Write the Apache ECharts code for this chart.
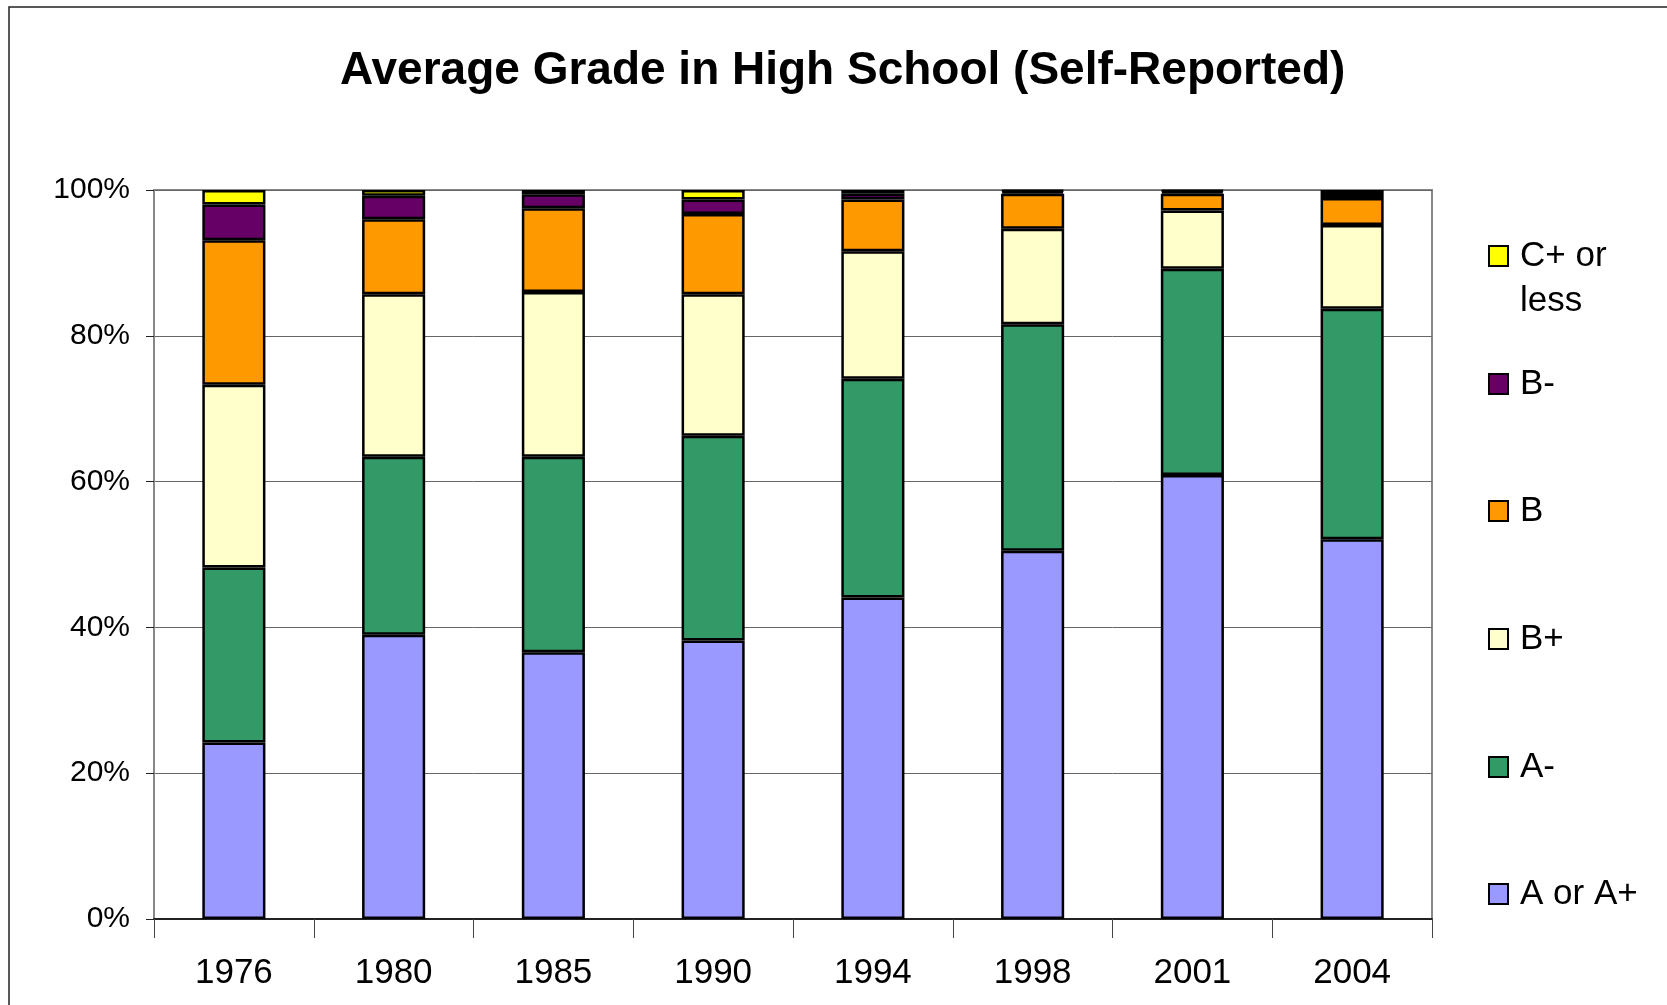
<!DOCTYPE html>
<html>
<head>
<meta charset="utf-8">
<script src="https://cdn.jsdelivr.net/npm/echarts@6/dist/echarts.min.js"></script>
<style>
html,body{margin:0;padding:0;background:#fff;}
#chart{width:1667px;height:1005px;}
</style>
</head>
<body>
<div id="chart"></div>
<script>
// ---- data ----
const years = ['1976', '1980', '1985', '1990', '1994', '1998', '2001', '2004'];
const seriesNames = ['A or A+', 'A-', 'B+', 'B', 'B-', 'C+ or less'];
const aOrAPlus = [24.2, 39.0, 36.6, 38.2, 44.1, 50.5, 60.9, 52.1];
const aMinus   = [24.0, 24.4, 26.8, 28.1, 30.0, 31.1, 28.3, 31.6];
const bPlus    = [25.1, 22.3, 22.6, 19.4, 17.5, 13.1, 8.0, 11.5];
const bGrade   = [19.8, 10.3, 11.5, 11.0, 7.1, 4.8, 2.3, 3.7];
const bMinus   = [4.9, 3.2, 1.9, 2.0, 0.8, 0.3, 0.3, 0.7];
const cPlusOrLess = [2.0, 0.8, 0.6, 1.3, 0.5, 0.2, 0.2, 0.4];
const yTicks = [0, 20, 40, 60, 80, 100];

const colors = ['#9999FF', '#339966', '#FFFFCC', '#FF9900', '#660066', '#FFFF00'];
const values = [aOrAPlus, aMinus, bPlus, bGrade, bMinus, cPlusOrLess];
const FONT = '"Liberation Sans", Arial, sans-serif';

const chart = echarts.init(document.getElementById('chart'), null, {renderer: 'canvas'});

const series = seriesNames.map((name, i) => ({
  name: name,
  type: 'bar',
  stack: 'total',
  barWidth: '39.5%',
  data: values[i],
  itemStyle: {color: colors[i], borderColor: '#000', borderWidth: 2.5},
  emphasis: {disabled: true}
}));

// legend items: top to bottom, marker centre y
const LH = 45;
const legendOrder = ['C+ or less', 'B-', 'B', 'B+', 'A-', 'A or A+'];
const legendCenters = [256, 384, 511, 639, 767, 894];
const legends = legendOrder.map((name, i) => {
  const multi = name === 'C+ or less';
  return {
    data: [name],
    left: 1488,
    top: multi ? legendCenters[i] - 1.5 * LH : legendCenters[i] - LH / 2,
    padding: 0,
    orient: 'vertical',
    icon: 'rect',
    itemWidth: 19,
    itemHeight: 20,
    selectedMode: false,
    formatter: multi ? ' \nC+ or\nless' : '{name}',
    textStyle: {
      fontFamily: FONT,
      fontSize: 35,
      lineHeight: LH,
      color: '#000',
      padding: [0, 0, 0, 7]
    }
  };
});

chart.setOption({
  animation: false,
  backgroundColor: '#fff',
  title: {
    text: 'Average Grade in High School (Self-Reported)',
    left: 340,
    top: 48,
    padding: 0,
    textStyle: {fontFamily: FONT, fontWeight: 'bold', fontSize: 46, color: '#000'}
  },
  legend: legends,
  grid: {
    left: 154, right: 235, top: 190, bottom: 86,
    show: true, borderColor: '#888', borderWidth: 2, backgroundColor: '#fff'
  },
  xAxis: {
    type: 'category',
    data: years,
    boundaryGap: true,
    axisLine: {show: true, lineStyle: {color: '#222', width: 2}},
    axisTick: {show: true, alignWithLabel: false, length: 19, lineStyle: {color: '#444', width: 1}},
    axisLabel: {fontFamily: FONT, fontSize: 35, color: '#000', margin: 37}
  },
  yAxis: {
    type: 'value',
    min: yTicks[0],
    max: yTicks[yTicks.length - 1],
    interval: 20,
    axisLine: {show: true, lineStyle: {color: '#888', width: 2}},
    axisTick: {show: true, length: 8, lineStyle: {color: '#222', width: 1}},
    axisLabel: {fontFamily: FONT, fontSize: 30, color: '#000', margin: 24, formatter: '{value}%'},
    splitLine: {show: true, lineStyle: {color: '#666', width: 1}}
  },
  graphic: [{
    type: 'rect',
    z: -10,
    shape: {x: 9, y: 7, width: 1700, height: 1100},
    style: {fill: 'none', stroke: '#222', lineWidth: 1.5}
  }],
  series: series
});
</script>
</body>
</html>
